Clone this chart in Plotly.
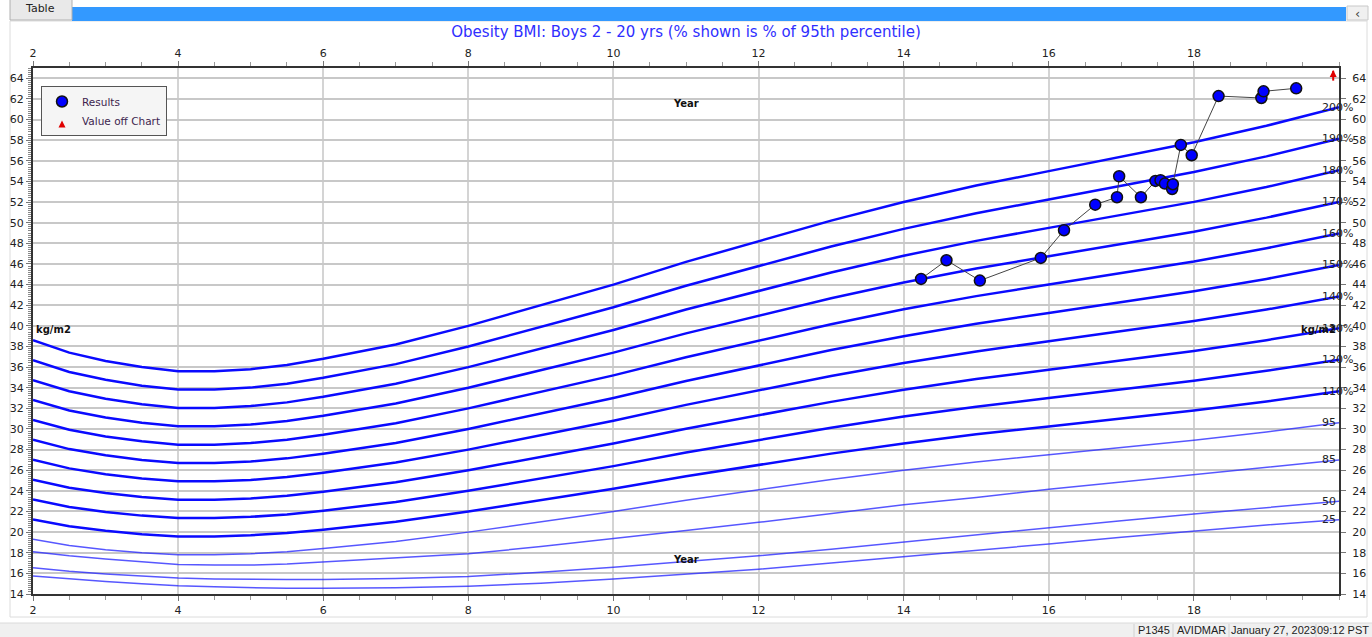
import plotly.graph_objects as go

# ---- Reference curves (BMI, kg/m2) by age in years ----
ages = [2, 2.5, 3, 3.5, 4, 4.5, 5, 5.5, 6, 7, 8, 9, 10, 11, 12, 13, 14, 15, 16, 17, 18, 19, 20]
p95 = [19.3, 18.7, 18.3, 18.0, 17.8, 17.8, 17.9, 18.1, 18.4, 19.1, 20.0, 21.0, 22.0, 23.1,
       24.1, 25.1, 26.0, 26.8, 27.5, 28.2, 28.9, 29.7, 30.6]
p85 = [18.1, 17.7, 17.4, 17.1, 16.85, 16.8, 16.8, 16.9, 17.1, 17.45, 17.9, 18.6, 19.35, 20.15,
       20.95, 21.8, 22.65, 23.35, 24.15, 24.85, 25.55, 26.3, 27.0]
p50 = [16.55, 16.2, 15.95, 15.75, 15.55, 15.45, 15.4, 15.4, 15.4, 15.5, 15.7, 16.1, 16.6, 17.15,
       17.7, 18.35, 19.05, 19.75, 20.45, 21.1, 21.75, 22.4, 23.0]
p25 = [15.75, 15.45, 15.2, 15.0, 14.8, 14.7, 14.6, 14.55, 14.55, 14.6, 14.75, 15.05, 15.45, 15.9,
       16.4, 17.0, 17.6, 18.2, 18.85, 19.5, 20.1, 20.7, 21.2]
pct_of_p95 = [110, 120, 130, 140, 150, 160, 170, 180, 190, 200]

# ---- Patient results ----
result_age = [14.24, 14.59, 15.05, 15.89, 16.21, 16.64, 16.94, 16.97, 17.27, 17.47,
              17.54, 17.60, 17.70, 17.71, 17.82, 17.97, 18.34, 18.93, 18.96, 19.41]
result_bmi = [44.55, 46.36, 44.39, 46.59, 49.27, 51.75, 52.47, 54.5, 52.47, 54.05,
              54.12, 53.79, 53.27, 53.73, 57.54, 56.54, 62.28, 62.09, 62.74, 63.03]
off_chart_age = [19.92]

x_range = [2, 20]
y_range = [14, 65]
x_ticks = list(range(2, 19, 2))
y_ticks = list(range(14, 65, 2))

FONT = "DejaVu Sans"
W, H = 1372, 637
ML, MR, MT, MB = 33, 33, 68, 43
PW, PH = W - ML - MR, H - MT - MB


def px(xp):
    return (xp - ML) / PW


def py(yp):
    return (H - MB - yp) / PH


fig = go.Figure()

thin_color = "rgba(40,40,255,0.78)"
thick_color = "#0a0aff"

for name, vals in [("25", p25), ("50", p50), ("85", p85), ("95", p95)]:
    fig.add_trace(go.Scatter(x=ages, y=vals, mode="lines", showlegend=False,
                             line=dict(color=thin_color, width=1.5), hoverinfo="skip"))
for pct in pct_of_p95:
    fig.add_trace(go.Scatter(x=ages, y=[v * pct / 100 for v in p95], mode="lines",
                             showlegend=False, line=dict(color=thick_color, width=2.5),
                             hoverinfo="skip"))

# connecting line between results
fig.add_trace(go.Scatter(x=result_age, y=result_bmi, mode="lines", showlegend=False,
                         line=dict(color="#444444", width=1), hoverinfo="skip"))
fig.add_trace(go.Scatter(x=result_age, y=result_bmi, mode="markers", name="Results",
                         marker=dict(color="#0000ff", size=11,
                                     line=dict(color="#111111", width=1.5))))

# value beyond the top of the scale: arrow shaft + head pinned at the upper edge
off_y = y_range[1] - 0.2
fig.add_trace(go.Scatter(x=off_chart_age, y=[off_y - 0.55], mode="markers", showlegend=False,
                         cliponaxis=False, hoverinfo="skip",
                         marker=dict(symbol="line-ns", size=7,
                                     line=dict(color="#e00000", width=2))))
fig.add_trace(go.Scatter(x=off_chart_age, y=[off_y], mode="markers",
                         name="Value off Chart", cliponaxis=False,
                         marker=dict(color="#e00000", size=7, symbol="arrow-up")))

# secondary axes (top / right) carry their own tick labels
fig.add_trace(go.Scatter(x=[], y=[], xaxis="x2", yaxis="y2", showlegend=False,
                         hoverinfo="skip"))

# curve labels at the right edge
label_x = 19.74
for name, vals in [("25", p25), ("50", p50), ("85", p85), ("95", p95)]:
    fig.add_annotation(x=label_x, y=vals[-1], text=name, showarrow=False,
                       xanchor="left", yanchor="middle",
                       font=dict(family=FONT, size=11, color="#222222"))
for pct in pct_of_p95:
    fig.add_annotation(x=label_x, y=p95[-1] * pct / 100, text=f"{pct}%", showarrow=False,
                       xanchor="left", yanchor="middle",
                       font=dict(family=FONT, size=11, color="#222222"))

# axis captions inside the plot
for ya in [61.6, 17.3]:
    fig.add_annotation(x=11, y=ya, text="<b>Year</b>", showarrow=False, xanchor="center",
                       font=dict(family=FONT, size=10, color="#111111"))
fig.add_annotation(xref="paper", x=0.001, y=39.6, text="<b>kg/m2</b>", showarrow=False,
                   xanchor="left", font=dict(family=FONT, size=10, color="#111111"))
fig.add_annotation(xref="paper", x=0.999, y=39.6, text="<b>kg/m2</b>", showarrow=False,
                   xanchor="right", font=dict(family=FONT, size=10, color="#111111"))

# window chrome: tab strip and status bar
shapes = [
    dict(type="rect", xref="paper", yref="paper", x0=px(10), x1=px(1367), y0=py(617), y1=py(21),
         line=dict(color="#dcdcdc", width=1), fillcolor="rgba(0,0,0,0)", layer="below"),
    dict(type="rect", xref="paper", yref="paper", x0=px(72), x1=px(1346), y0=py(21), y1=py(7),
         line=dict(width=0), fillcolor="#3399ff"),
    dict(type="rect", xref="paper", yref="paper", x0=px(10), x1=px(72), y0=py(20), y1=py(-2),
         line=dict(color="#b0b0b0", width=1), fillcolor="#e9e9e9"),
    dict(type="rect", xref="paper", yref="paper", x0=px(1347), x1=px(1368), y0=py(20), y1=py(6),
         line=dict(color="#c8c8c8", width=1), fillcolor="#f0f0f0"),
    dict(type="rect", xref="paper", yref="paper", x0=px(0), x1=px(1372), y0=py(640), y1=py(623),
         line=dict(width=0), fillcolor="#f0f0f0"),
    dict(type="line", xref="paper", yref="paper", x0=px(0), x1=px(1372), y0=py(623), y1=py(623),
         line=dict(color="#dadada", width=1)),
]
for sx in [1134, 1173, 1229, 1316]:
    shapes.append(dict(type="line", xref="paper", yref="paper", x0=px(sx), x1=px(sx),
                       y0=py(637), y1=py(624), line=dict(color="#d0d0d0", width=1)))
fig.update_layout(shapes=shapes)

fig.add_annotation(xref="paper", yref="paper", x=px(40), y=py(9), text="Table",
                   xanchor="center", yanchor="middle", showarrow=False,
                   font=dict(family=FONT, size=11, color="#222222"))
fig.add_annotation(xref="paper", yref="paper", x=px(1357), y=py(13), text="‹",
                   xanchor="center", yanchor="middle", showarrow=False,
                   font=dict(family=FONT, size=13, color="#444444"))
for cx, txt in [(1154, "P1345"), (1201, "AVIDMAR"), (1273, "January 27, 2023"), (1343, "09:12 PST")]:
    fig.add_annotation(xref="paper", yref="paper", x=px(cx), y=py(630), text=txt,
                       xanchor="center", yanchor="middle", showarrow=False,
                       font=dict(family="Liberation Sans", size=11, color="#222222"))

axis_font = dict(family=FONT, size=11, color="#222222")
grid_col = "#c8c8c8"

fig.update_layout(
    width=W, height=H,
    margin=dict(l=ML, r=MR, t=MT, b=MB, pad=0, autoexpand=False),
    paper_bgcolor="white", plot_bgcolor="white",
    title=dict(text="Obesity BMI: Boys 2 - 20 yrs (% shown is % of 95th percentile)",
               x=0.5, xanchor="center", y=1 - 32 / H, yanchor="middle",
               font=dict(family=FONT, size=15, color="#2f2fff")),
    showlegend=True,
    legend=dict(x=px(41), y=py(86), xanchor="left", yanchor="top",
                bgcolor="#f5f5f5", bordercolor="#555555", borderwidth=1,
                font=dict(family=FONT, size=10.5, color="#3d1f4f"),
                tracegroupgap=0, itemwidth=30),
    xaxis=dict(range=x_range, tickvals=x_ticks, showgrid=True, gridcolor="#d4d4d4",
               gridwidth=2, zeroline=False, showline=True, linecolor="#333333", linewidth=2,
               ticks="outside", ticklen=5, tickcolor="#777777", tickfont=axis_font,
               automargin=False,
               minor=dict(dtick=0.5, ticks="outside", ticklen=4, tickcolor="#999999",
                          showgrid=False)),
    xaxis2=dict(range=x_range, tickvals=x_ticks, overlaying="x", side="top", anchor="y",
                showgrid=False, zeroline=False, showline=True, linecolor="#333333",
                linewidth=2, ticks="outside", ticklen=5, tickcolor="#777777",
                tickfont=axis_font, automargin=False,
                minor=dict(dtick=0.5, ticks="outside", ticklen=4, tickcolor="#999999",
                           showgrid=False)),
    yaxis=dict(range=y_range, tickvals=y_ticks, showgrid=True, gridcolor=grid_col,
               gridwidth=2, zeroline=False, showline=True, linecolor="#333333", linewidth=2,
               ticks="outside", ticklen=5, tickcolor="#777777", tickfont=axis_font,
               automargin=False,
               minor=dict(dtick=0.2, ticks="outside", ticklen=3, tickcolor="#888888",
                          showgrid=False)),
    yaxis2=dict(range=y_range, tickvals=y_ticks, overlaying="y", side="right", anchor="x",
                showgrid=False, zeroline=False, showline=True, linecolor="#333333",
                linewidth=2, ticks="outside", ticklen=5, tickcolor="#777777",
                tickfont=axis_font, ticklabelstandoff=4, automargin=False),
)

fig.write_html("out.html")
